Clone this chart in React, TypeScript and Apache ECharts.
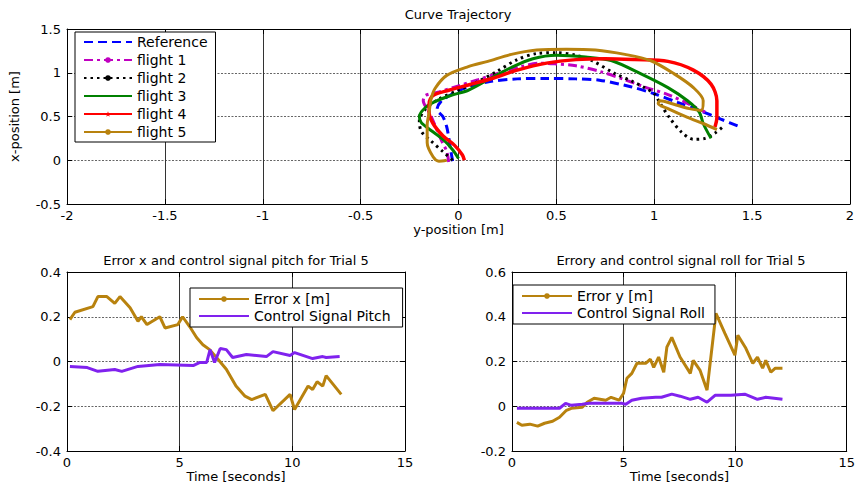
import React, { useEffect, useRef } from 'react';
import * as echarts from 'echarts';

const FONT = 'DejaVu Sans';

// ---------- Top: Curve Trajectory ([y-position, x-position]) ----------
const referencePath = [[-0.03,-0.01],[-0.04,0.12],[-0.05,0.26],[-0.06,0.38],[-0.08,0.5],[-0.11,0.58],[-0.09,0.67],[-0.03,0.76],[0.05,0.84],[0.16,0.9],[0.3,0.93],[0.45,0.935],[0.6,0.93],[0.72,0.915],[0.88,0.84],[1.0,0.76],[1.12,0.66],[1.23,0.57],[1.34,0.47],[1.44,0.38]];
const flight1Path = [[-0.05,-0.02],[-0.06,0.1],[-0.09,0.24],[-0.12,0.4],[-0.15,0.55],[-0.18,0.68],[-0.17,0.74],[-0.1,0.78],[0.0,0.85],[0.1,0.92],[0.21,1.0],[0.32,1.07],[0.42,1.11],[0.5,1.1],[0.6,1.08],[0.73,1.01],[0.85,0.92],[0.96,0.83],[1.07,0.75],[1.17,0.65],[1.26,0.55]];
const flight2Path = [[-0.03,0.0],[-0.08,0.1],[-0.14,0.22],[-0.19,0.33],[-0.2,0.45],[-0.17,0.58],[-0.1,0.7],[0.0,0.8],[0.1,0.9],[0.2,1.02],[0.3,1.15],[0.4,1.22],[0.5,1.23],[0.6,1.2],[0.68,1.14],[0.8,0.99],[0.89,0.9],[0.95,0.83],[1.0,0.76],[1.03,0.65],[1.08,0.48],[1.14,0.32],[1.2,0.24],[1.26,0.25],[1.31,0.31],[1.35,0.38]];
const flight3Path = [[0.0,0.02],[-0.03,0.12],[-0.08,0.24],[-0.14,0.34],[-0.19,0.43],[-0.2,0.5],[-0.17,0.6],[-0.12,0.67],[-0.04,0.74],[0.05,0.8],[0.15,0.92],[0.27,1.06],[0.38,1.16],[0.5,1.2],[0.65,1.18],[0.78,1.14],[0.93,0.99],[1.07,0.83],[1.17,0.68],[1.23,0.55],[1.25,0.42],[1.29,0.25]];
const flight4Path = [[0.03,0.0],[0.02,0.06],[-0.02,0.17],[-0.08,0.28],[-0.13,0.42],[-0.15,0.55],[-0.15,0.65],[-0.13,0.74],[-0.05,0.8],[0.05,0.86],[0.18,0.94],[0.3,1.03],[0.45,1.11],[0.6,1.15],[0.75,1.16],[0.9,1.15],[1.07,1.13],[1.2,1.03],[1.29,0.87],[1.32,0.68],[1.32,0.49],[1.31,0.38]];
const flight5Path = [[-0.06,0.0],[-0.1,-0.01],[-0.13,0.04],[-0.16,0.2],[-0.16,0.4],[-0.15,0.55],[-0.14,0.7],[-0.12,0.82],[-0.06,0.97],[0.05,1.07],[0.15,1.13],[0.27,1.21],[0.4,1.26],[0.55,1.27],[0.7,1.26],[0.85,1.21],[0.98,1.14],[1.1,0.99],[1.2,0.83],[1.25,0.68],[1.24,0.57],[1.18,0.59],[1.1,0.64],[1.03,0.68],[1.02,0.65],[1.07,0.59],[1.17,0.49],[1.25,0.42],[1.32,0.35]];

// ---------- Bottom-left: Error x / pitch ----------
const errXTime = [0.13,0.35,1.15,1.37,1.77,2.12,2.35,2.8,3.15,3.3,3.55,4.12,4.35,4.92,5.13,5.45,5.75,6.03,6.33,6.7,7.07,7.5,7.9,8.2,8.8,9.14,9.9,10.1,10.7,10.9,11.1,11.35,11.5,12.17];
const errXVal = [0.187,0.22,0.245,0.29,0.29,0.26,0.29,0.24,0.18,0.2,0.165,0.2,0.15,0.165,0.2,0.155,0.107,0.075,0.053,0.01,-0.035,-0.11,-0.155,-0.17,-0.147,-0.22,-0.147,-0.215,-0.11,-0.125,-0.09,-0.11,-0.063,-0.147];
const pitchTime = [0.13,0.9,1.37,2.12,2.43,3.15,4.12,5.6,5.9,6.2,6.35,6.55,6.8,7.07,7.35,7.96,8.85,9.14,9.9,10.1,10.9,11.35,11.5,12.1];
const pitchVal = [-0.022,-0.027,-0.044,-0.036,-0.044,-0.022,-0.013,-0.018,-0.004,-0.004,0.053,-0.004,0.058,0.053,0.018,0.031,0.022,0.044,0.027,0.04,0.013,0.022,0.018,0.022];

// ---------- Bottom-right: Error y / roll ----------
const errYTime = [0.22,0.44,0.8,1.15,1.46,1.82,2.13,2.44,2.66,3.15,3.37,3.68,4.2,4.44,4.8,5.0,5.15,5.37,5.6,5.99,6.2,6.35,6.57,6.8,6.94,7.16,7.53,7.99,8.12,8.43,8.74,9.14,9.54,9.99,10.12,10.48,10.79,11.0,11.23,11.37,11.6,11.8,12.12];
const errYVal = [-0.072,-0.085,-0.08,-0.089,-0.076,-0.067,-0.049,-0.018,-0.009,-0.004,0.018,0.036,0.027,0.04,0.027,0.058,0.125,0.147,0.192,0.192,0.21,0.174,0.22,0.152,0.264,0.308,0.22,0.147,0.205,0.16,0.072,0.415,0.326,0.228,0.317,0.259,0.192,0.219,0.17,0.205,0.152,0.17,0.17];
const rollTime = [0.22,2.13,2.4,2.66,3.15,3.46,4.2,4.93,5.1,5.37,5.81,6.44,6.7,7.16,7.53,7.99,8.34,8.74,9.1,9.81,10.43,11.0,11.37,12.12];
const rollVal = [-0.009,-0.009,0.013,0.004,0.009,0.013,0.013,0.013,0.009,0.027,0.036,0.04,0.04,0.054,0.045,0.031,0.04,0.018,0.049,0.049,0.054,0.031,0.04,0.031];

const zip = (a: number[], b: number[]) => a.map((v, i) => [v, b[i]]);

const STAR = 'path://M0,-10L2.4,-3.2L9.5,-3.1L3.8,1.2L5.9,8.1L0,4L-5.9,8.1L-3.8,1.2L-9.5,-3.1L-2.4,-3.2Z';
const GOLD = '#b8820e';
const PURPLE = '#8022ee';

const grids = [
  { left: 67, top: 29, width: 783, height: 175 },
  { left: 67, top: 272, width: 338, height: 179 },
  { left: 512, top: 272, width: 338, height: 179 },
];

const xRanges = [[-2, 2, 0.5], [0, 15, 5], [0, 15, 5]];
const yRanges = [[-0.5, 1.5, 0.5], [-0.4, 0.4, 0.2], [-0.2, 0.6, 0.2]];

const labelStyle = { color: '#000', fontFamily: FONT, fontSize: 13 };
const tick = { show: true, inside: true, length: 5, lineStyle: { color: '#000', width: 1 } };
const axLine = { show: true, onZero: false, lineStyle: { color: '#000', width: 1 } };

function mainX(i: number, name: string, nameGap: number) {
  const [min, max, interval] = xRanges[i];
  return {
    type: 'value', gridIndex: i, min, max, interval, position: 'bottom',
    name, nameLocation: 'middle', nameGap,
    nameTextStyle: { color: '#000', fontFamily: FONT, fontSize: 13 },
    axisLine: axLine, axisTick: tick,
    axisLabel: { ...labelStyle, margin: 5 },
    splitLine: { show: true, lineStyle: { color: '#333', width: 1, type: 'solid' } },
  };
}
function mainY(i: number, name?: string) {
  const [min, max, interval] = yRanges[i];
  return {
    type: 'value', gridIndex: i, min, max, interval, position: 'left',
    name: name || '', nameLocation: 'middle', nameGap: 46,
    nameTextStyle: { color: '#000', fontFamily: FONT, fontSize: 13 },
    axisLine: axLine, axisTick: tick,
    axisLabel: { ...labelStyle, margin: 6 },
    splitLine: { show: true, lineStyle: { color: '#666', width: 1, type: [2, 1.5] } },
  };
}
function boxX(i: number) {
  const [min, max, interval] = xRanges[i];
  return { type: 'value', gridIndex: i, min, max, interval, position: 'top', axisLine: axLine, axisTick: tick, axisLabel: { show: false }, splitLine: { show: false } };
}
function boxY(i: number) {
  const [min, max, interval] = yRanges[i];
  return { type: 'value', gridIndex: i, min, max, interval, position: 'right', axisLine: axLine, axisTick: tick, axisLabel: { show: false }, splitLine: { show: false } };
}

function traj(name: string, data: number[][], color: string, type: any, symbol: string, width = 3) {
  return {
    name, type: 'line', xAxisIndex: 0, yAxisIndex: 0, data,
    smooth: 0.3, symbol, symbolSize: 6, showSymbol: false,
    lineStyle: { color, width, type, cap: 'butt' },
    itemStyle: { color },
  };
}
function sig(name: string, idx: number, data: number[][], color: string, symbol: string) {
  return {
    name, type: 'line', xAxisIndex: idx, yAxisIndex: idx, data,
    symbol, symbolSize: 6, showSymbol: false,
    lineStyle: { color, width: 3 }, itemStyle: { color },
  };
}

const legendBase = {
  orient: 'vertical', itemHeight: 7, selectedMode: false,
  backgroundColor: '#fff', borderColor: '#000', borderWidth: 1, borderRadius: 0,
  textStyle: { color: '#000', fontFamily: FONT, fontSize: 14 },
};
const noMarker = (name: string) => ({ name, itemStyle: { opacity: 0 } });

const titleText = (x: number, y: number, text: string) => ({
  type: 'text', x, y,
  style: { text, fill: '#000', font: `13px "${FONT}"`, textAlign: 'center', textVerticalAlign: 'middle' },
});

const option = {
  animation: false,
  backgroundColor: '#fff',
  grid: grids,
  xAxis: [mainX(0, 'y-position [m]', 17), mainX(1, 'Time [seconds]', 19), mainX(2, 'Time [seconds]', 19), boxX(0), boxX(1), boxX(2)],
  yAxis: [mainY(0, 'x-position [m]'), mainY(1), mainY(2), boxY(0), boxY(1), boxY(2)],
  legend: [
    { ...legendBase, left: 75, top: 32, itemWidth: 48, itemGap: 4, padding: [3, 8, 3, 8],
      data: [noMarker('Reference'), 'flight 1', 'flight 2', noMarker('flight 3'), 'flight 4', 'flight 5'] },
    { ...legendBase, left: 190, top: 288, itemWidth: 50, itemGap: 3, padding: [4, 12, 4, 8],
      data: ['Error x [m]', noMarker('Control Signal Pitch')] },
    { ...legendBase, left: 513, top: 285, itemWidth: 50, itemGap: 3, padding: [4, 10, 4, 8],
      data: ['Error y [m]', noMarker('Control Signal Roll')] },
  ],
  graphic: [
    titleText(458, 14, 'Curve Trajectory'),
    titleText(236, 260, 'Error x and control signal pitch for Trial 5'),
    titleText(681, 260, 'Errory and control signal roll for Trial 5'),
  ],
  series: [
    traj('Reference', referencePath, '#0000ff', [9, 5], 'none'),
    traj('flight 1', flight1Path, '#c000c0', [9, 4, 3, 4], 'circle'),
    traj('flight 2', flight2Path, '#000000', [2.5, 4], 'circle'),
    traj('flight 3', flight3Path, '#008000', 'solid', 'none'),
    traj('flight 4', flight4Path, '#ff0000', 'solid', STAR, 3.5),
    traj('flight 5', flight5Path, GOLD, 'solid', 'circle'),
    sig('Error x [m]', 1, zip(errXTime, errXVal), GOLD, 'circle'),
    sig('Control Signal Pitch', 1, zip(pitchTime, pitchVal), PURPLE, 'none'),
    sig('Error y [m]', 2, zip(errYTime, errYVal), GOLD, 'circle'),
    sig('Control Signal Roll', 2, zip(rollTime, rollVal), PURPLE, 'none'),
  ],
};

export default function App() {
  const ref = useRef<HTMLDivElement>(null);
  useEffect(() => {
    const chart = echarts.init(ref.current!, null, { renderer: 'svg' });
    chart.setOption(option as any);
    return () => chart.dispose();
  }, []);
  return <div ref={ref} style={{ position: 'absolute', left: 0, top: 0, width: 858, height: 484 }} />;
}
